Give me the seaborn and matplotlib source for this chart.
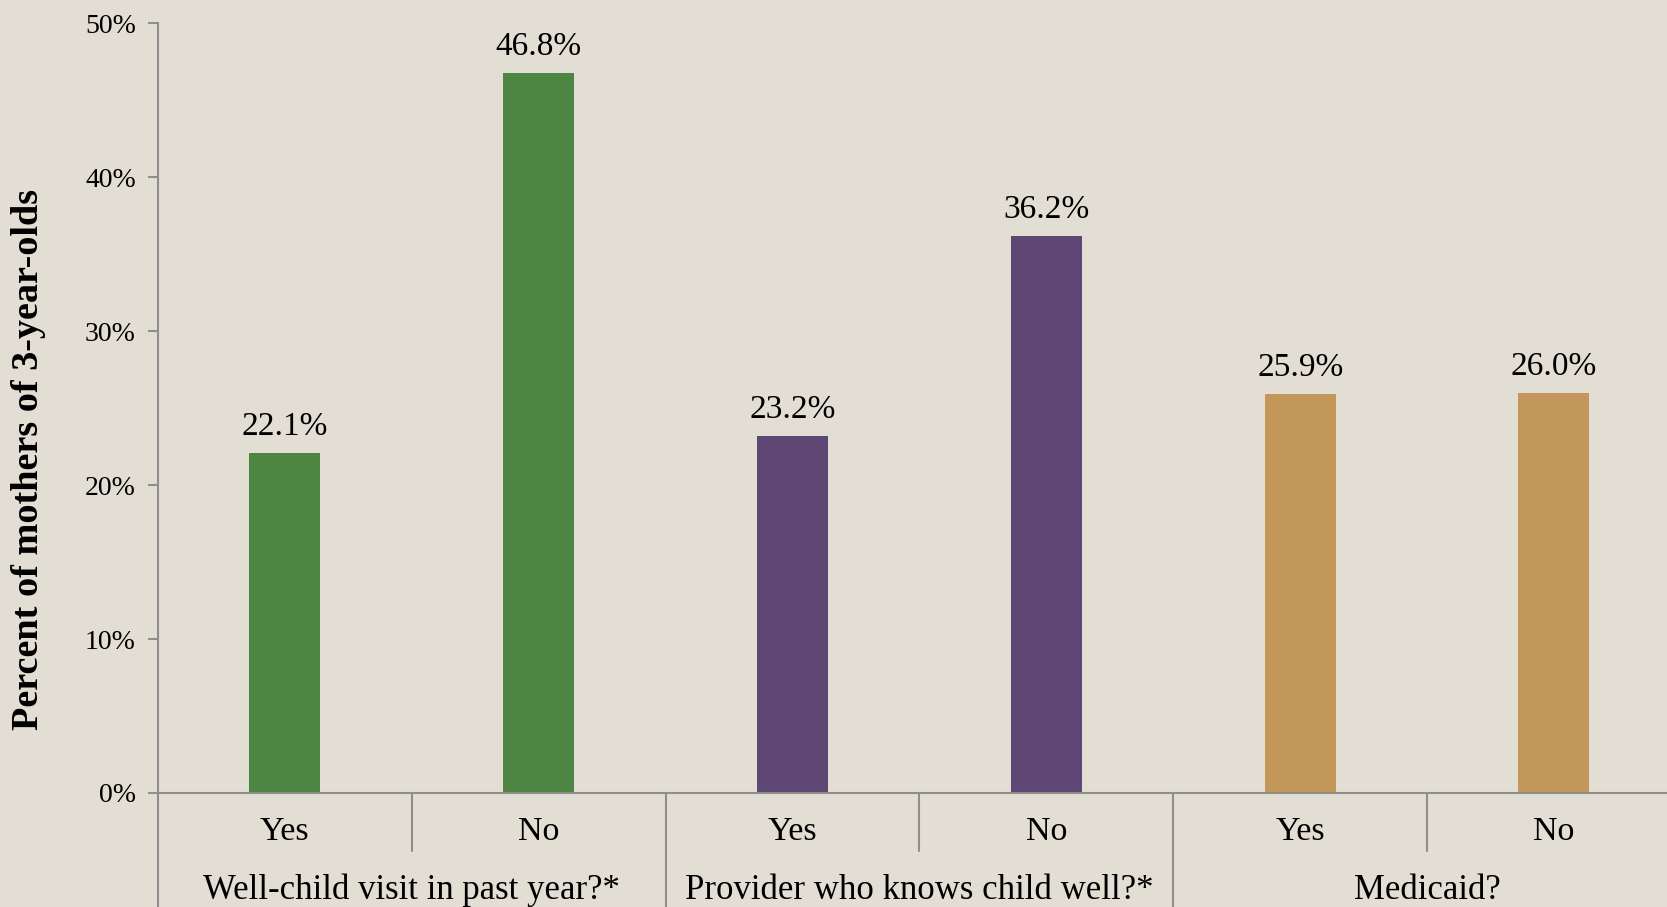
import matplotlib
matplotlib.use("Agg")
import matplotlib.pyplot as plt
import matplotlib.transforms as mtransforms
import seaborn as sns
import pandas as pd
import numpy as np

# Chart data
groups = ["Well-child visit in past year?*", "Provider who knows child well?*", "Medicaid?"]
answers = ["Yes", "No"]
values = [22.1, 46.8, 23.2, 36.2, 25.9, 26.0]
group_colors = ["#4E8542", "#5E4775", "#C39759"]
y_ticks = [0, 10, 20, 30, 40, 50]

bg = "#E3DED3"
axis_grey = "#8E8E8E"

slots = [f"{g}|{a}" for g in groups for a in answers]
df = pd.DataFrame({
    "slot": slots,
    "group": [g for g in groups for _ in answers],
    "answer": [a for _ in groups for a in answers],
    "value": values,
})

sns.set_style("white")
plt.rcParams["font.family"] = ["Liberation Serif", "DejaVu Serif"]
plt.rcParams["text.color"] = "black"
plt.rcParams["xtick.color"] = "black"
plt.rcParams["ytick.color"] = "black"
plt.rcParams["axes.labelcolor"] = "black"

fig = plt.figure(figsize=(16.67, 9.07), dpi=100, facecolor=bg)
# the plot area runs a little past the right edge, as in the original
ax = fig.add_axes([0.0948, 0.1257, 0.9135, 0.8485])
ax.set_facecolor(bg)

palette = {g: c for g, c in zip(groups, group_colors)}
sns.barplot(data=df, x="slot", y="value", hue="group", palette=palette,
            order=slots, width=0.28, dodge=False, legend=False,
            saturation=1, linewidth=0, ax=ax)

ax.set_xlim(-0.5, len(slots) - 0.5)
ax.set_ylim(0, 50)
ax.set_yticks(y_ticks)
ax.set_yticklabels([f"{t}%" for t in y_ticks], fontsize=20)
ax.set_xticks(range(len(slots)))
ax.set_xticklabels(df["answer"], fontsize=24.5)
ax.tick_params(axis="x", length=0, pad=17)
ax.tick_params(axis="y", length=7, width=1.5, color=axis_grey, pad=9,
               direction="out", left=True)

for side in ["top", "right"]:
    ax.spines[side].set_visible(False)
for side in ["left", "bottom"]:
    ax.spines[side].set_color(axis_grey)
    ax.spines[side].set_linewidth(1.5)

ax.set_xlabel("")
ax.set_ylabel("Percent of mothers of 3-year-olds", fontsize=27.5, fontweight="bold")
ax.yaxis.label.set_va("center")
ax.yaxis.set_label_coords(-0.085, 0.433)

# value labels
for patch, v in zip(ax.patches, values):
    ax.annotate(f"{v:.1f}%", (patch.get_x() + patch.get_width() / 2, v),
                xytext=(0, 8), textcoords="offset points",
                ha="center", va="bottom", fontsize=24)

# dividers below the axis
trans = mtransforms.blended_transform_factory(ax.transData, ax.transAxes)
for i in range(len(slots) + 1):
    xb = i - 0.5
    if i % 2 == 0:
        ax.plot([xb, xb], [0, -0.2], color=axis_grey, lw=1.5,
                transform=trans, clip_on=False)
    else:
        ax.plot([xb, xb], [0, -0.075], color=axis_grey, lw=1.5,
                transform=trans, clip_on=False)

# group labels
for gi, g in enumerate(groups):
    ax.text(gi * 2 + 0.5, -0.127, g, transform=trans, ha="center",
            va="center", fontsize=25)

fig.savefig("out.png", dpi=100, facecolor=bg)
